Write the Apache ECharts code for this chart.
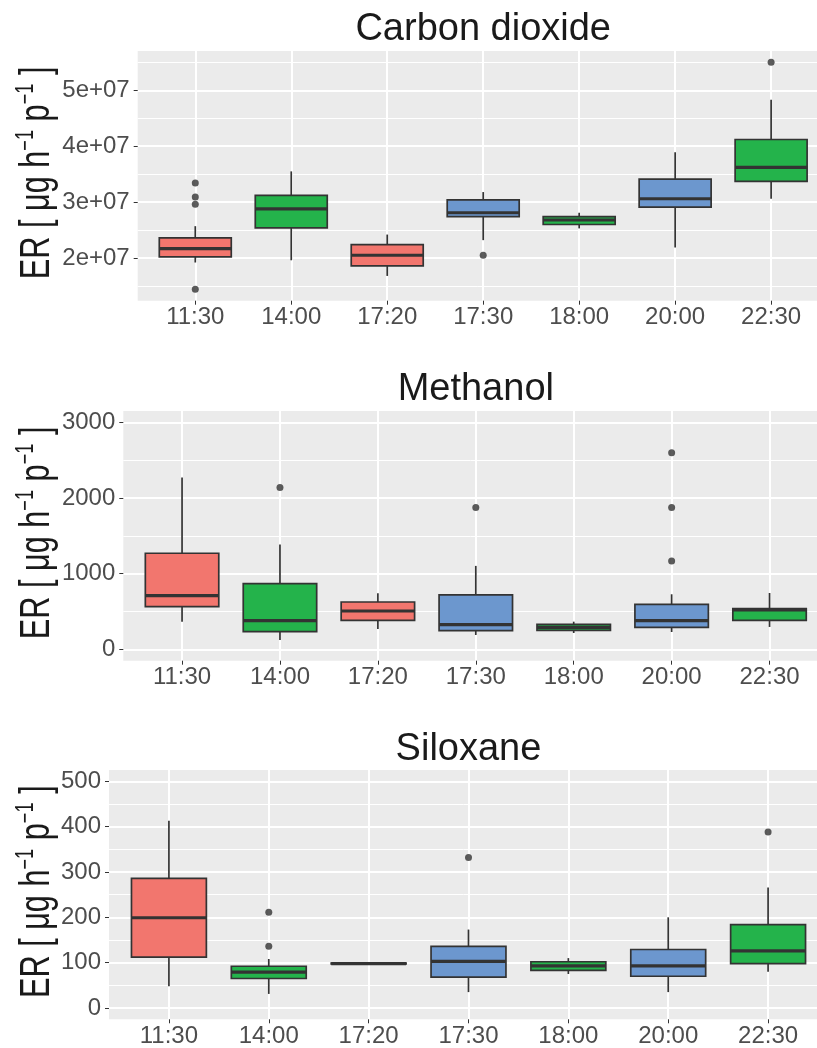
<!DOCTYPE html>
<html><head><meta charset="utf-8">
<script src="https://cdn.jsdelivr.net/npm/echarts@6/dist/echarts.min.js"></script>
<style>html,body{margin:0;padding:0;background:#fff}#c{width:817px;height:1048px}</style>
</head><body><div id="c"></div>
<script>
// ---------- data ----------
const categories = ['11:30', '14:00', '17:20', '17:30', '18:00', '20:00', '22:30'];
const panelTitles = ['Carbon dioxide', 'Methanol', 'Siloxane'];
const yAxisTitle = '{a|ER [ μg h}{s|−1}{a| p}{s|−1}{a| ]}';

// box stats per category: [lowerWhisker, Q1, median, Q3, upperWhisker]
const co2Boxes = [
  [1.92e7, 2.02e7, 2.17e7, 2.36e7, 2.57e7],
  [1.96e7, 2.54e7, 2.88e7, 3.12e7, 3.55e7],
  [1.68e7, 1.86e7, 2.05e7, 2.24e7, 2.42e7],
  [2.32e7, 2.74e7, 2.81e7, 3.04e7, 3.18e7],
  [2.53e7, 2.60e7, 2.68e7, 2.74e7, 2.81e7],
  [2.19e7, 2.91e7, 3.06e7, 3.41e7, 3.89e7],
  [3.06e7, 3.37e7, 3.62e7, 4.12e7, 4.83e7]
];
// outliers: [categoryIndex, value]
const co2Outliers = [[0, 3.34e7], [0, 3.09e7], [0, 2.96e7], [0, 1.44e7], [3, 2.05e7], [6, 5.50e7]];

const methanolBoxes = [
  [366, 565, 710, 1270, 2272],
  [124, 234, 379, 869, 1385],
  [269, 384, 507, 626, 741],
  [190, 247, 326, 719, 1103],
  [216, 251, 291, 331, 366],
  [229, 291, 379, 595, 728],
  [296, 384, 520, 538, 745]
];
const methanolOutliers = [[1, 2139], [3, 1875], [5, 2598], [5, 1875], [5, 1169]];

const siloxaneBoxes = [
  [48, 112, 199, 286, 413],
  [31, 65, 79, 92, 108],
  [96, 97, 98, 99, 100],
  [35, 68, 103, 136, 173],
  [75, 83, 93, 102, 110],
  [35, 70, 93, 129, 200],
  [80, 98, 126, 184, 266]
];
const siloxaneOutliers = [[1, 211], [1, 136], [3, 332], [6, 388]];

// y tick labels / limits
const co2Ticks = [2e7, 3e7, 4e7, 5e7];
const co2MinorTicks = [1.5e7, 2.5e7, 3.5e7, 4.5e7, 5.5e7];
const methanolTicks = [0, 1000, 2000, 3000];
const methanolMinorTicks = [500, 1500, 2500];
const methanolLimits = [0, 3000];
const siloxaneTicks = [0, 100, 200, 300, 400, 500];
const siloxaneMinorTicks = [50, 150, 250, 350, 450];
const siloxaneLimits = [0, 500];

// ---------- styles ----------
const fillColors = ['#F2766E', '#24B34B', '#F2766E', '#6C97CE', '#24B34B', '#6C97CE', '#24B34B'];
const FONT = '"Liberation Sans", Arial, Helvetica, sans-serif';
const LINE = '#333333';

function expand(lo, hi) { const d = (hi - lo) * 0.05; return [lo - d, hi + d]; }
const co2All = co2Boxes.flat().concat(co2Outliers.map(o => o[1]));
const co2Limits = [Math.min(...co2All), Math.max(...co2All)];

const panels = [
  { boxes: co2Boxes, outliers: co2Outliers, ticks: co2Ticks, minor: co2MinorTicks, lim: expand(co2Limits[0], co2Limits[1]),
    fmt: v => { const e = Math.floor(Math.log10(v)); return (v / Math.pow(10, e)) + 'e+' + String(e).padStart(2, '0'); },
    grid: { left: 137.7, top: 51, width: 691, height: 249.7 }, titleTop: 11 },
  { boxes: methanolBoxes, outliers: methanolOutliers, ticks: methanolTicks, minor: methanolMinorTicks, lim: expand(methanolLimits[0], methanolLimits[1]),
    fmt: v => String(v), grid: { left: 123.3, top: 411, width: 705, height: 249.7 }, titleTop: 371 },
  { boxes: siloxaneBoxes, outliers: siloxaneOutliers, ticks: siloxaneTicks, minor: siloxaneMinorTicks, lim: expand(siloxaneLimits[0], siloxaneLimits[1]),
    fmt: v => String(v), grid: { left: 109, top: 770, width: 719, height: 249.3 }, titleTop: 731 }
];

const catIdx = categories.map((c, i) => i);

function renderBox(params, api) {
  const x = api.value(0);
  const pLo = api.coord([x, api.value(1)]);
  const pQ1 = api.coord([x, api.value(2)]);
  const pMed = api.coord([x, api.value(3)]);
  const pQ3 = api.coord([x, api.value(4)]);
  const pHi = api.coord([x, api.value(5)]);
  const w = api.size([0.75, 0])[0];
  const cx = pLo[0];
  const ls = { stroke: LINE, lineWidth: 1.7 };
  return {
    type: 'group',
    children: [
      { type: 'line', shape: { x1: cx, y1: pHi[1], x2: cx, y2: pQ3[1] }, style: ls },
      { type: 'line', shape: { x1: cx, y1: pQ1[1], x2: cx, y2: pLo[1] }, style: ls },
      { type: 'rect', shape: { x: cx - w / 2, y: pQ3[1], width: w, height: pQ1[1] - pQ3[1] },
        style: { fill: fillColors[params.dataIndex], stroke: LINE, lineWidth: 1.7 } },
      { type: 'line', shape: { x1: cx - w / 2, y1: pMed[1], x2: cx + w / 2, y2: pMed[1] }, style: { stroke: LINE, lineWidth: 3.2 } }
    ]
  };
}

const option = { animation: false, title: [], grid: [], xAxis: [], yAxis: [], series: [], graphic: [] };

panels.forEach((p, i) => {
  const g = p.grid;
  option.grid.push({ left: g.left, top: g.top, width: g.width, height: g.height, show: true,
    backgroundColor: '#EBEBEB', borderWidth: 0, containLabel: false, outerBoundsMode: 'none' });
  option.title.push({ text: panelTitles[i], left: g.left + g.width / 2, top: p.titleTop, textAlign: 'center', padding: 0,
    textStyle: { fontFamily: FONT, fontSize: 38, fontWeight: 'normal', color: '#1A1A1A' } });
  // rotated y-axis title (drawn as text, condensed like the original)
  option.graphic.push({
    type: 'text', x: 37, y: g.top + g.height / 2 - 3, rotation: Math.PI / 2, scaleX: 0.73, scaleY: 1, silent: true,
    style: { text: yAxisTitle, align: 'center', verticalAlign: 'middle',
      rich: {
        a: { fontFamily: FONT, fontSize: 42, fill: '#1A1A1A', lineHeight: 46 },
        s: { fontFamily: FONT, fontSize: 25, fill: '#1A1A1A', verticalAlign: 'top', lineHeight: 25 } } }
  });
  option.xAxis.push({
    type: 'value', gridIndex: i, min: -0.6, max: 6.6,
    axisLine: { show: false, onZero: false },
    axisTick: { show: true, length: 4, customValues: catIdx, lineStyle: { color: LINE, width: 1 } },
    axisLabel: { customValues: catIdx, formatter: v => categories[Math.round(v)], color: '#4D4D4D', fontSize: 24, fontFamily: FONT, margin: 5 },
    splitLine: { show: true, lineStyle: { color: '#FFFFFF', width: 2 } }
  });
  // major y axis
  option.yAxis.push({
    type: 'value', gridIndex: i, min: p.lim[0], max: p.lim[1],
    axisLine: { show: false, onZero: false },
    axisTick: { show: true, length: 4, customValues: p.ticks, lineStyle: { color: LINE, width: 1 } },
    axisLabel: { customValues: p.ticks, formatter: p.fmt, color: '#4D4D4D', fontSize: 24, fontFamily: FONT, margin: 8 },
    splitLine: { show: true, lineStyle: { color: '#FFFFFF', width: 2 } }
  });
  // minor y grid lines
  option.yAxis.push({
    type: 'value', gridIndex: i, min: p.lim[0], max: p.lim[1], position: 'right',
    axisLine: { show: false, onZero: false }, axisTick: { show: false, customValues: p.minor },
    axisLabel: { show: false, customValues: p.minor },
    splitLine: { show: true, lineStyle: { color: '#FFFFFF', width: 1 } }
  });
  option.series.push({
    type: 'custom', xAxisIndex: i, yAxisIndex: i * 2, renderItem: renderBox,
    data: p.boxes.map((b, k) => [k].concat(b)), z: 3
  });
  option.series.push({
    type: 'scatter', xAxisIndex: i, yAxisIndex: i * 2, symbolSize: 7,
    itemStyle: { color: LINE }, data: p.outliers, z: 4
  });
});

const chart = echarts.init(document.getElementById('c'), null, { renderer: 'canvas' });
chart.setOption(option);
</script>
</body></html>
